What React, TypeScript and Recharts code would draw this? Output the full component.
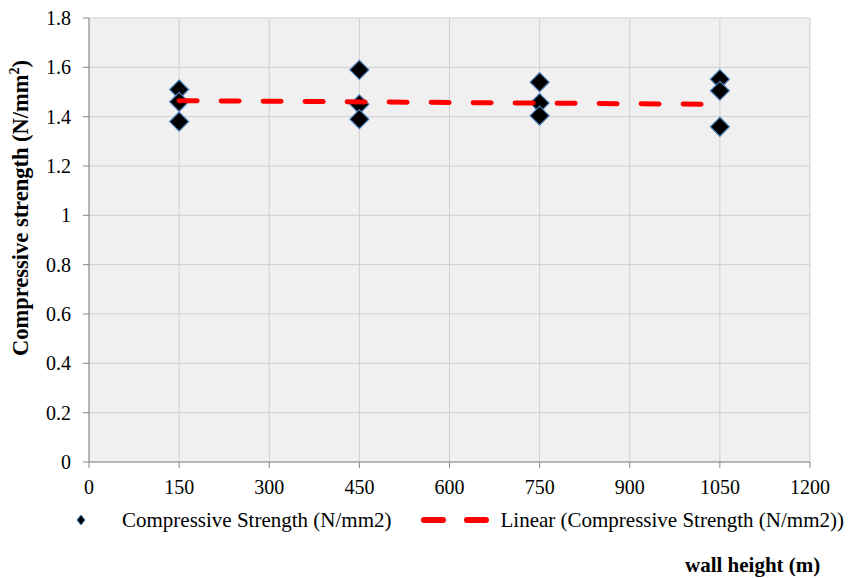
import { ScatterChart, Scatter, XAxis, YAxis, ZAxis, CartesianGrid } from 'recharts';

// wall height (m) and measured compressive strength (N/mm2)
const heights = [150, 150, 150, 450, 450, 450, 750, 750, 750, 1050, 1050, 1050];
const strengths = [1.51, 1.46, 1.38, 1.59, 1.45, 1.39, 1.54, 1.455, 1.404, 1.552, 1.505, 1.359];

// linear trend end points
const trendX = [150, 1050];
const trendY = [1.465, 1.45];

const xTicks = [0, 150, 300, 450, 600, 750, 900, 1050, 1200];
const yTicks = [0, 0.2, 0.4, 0.6, 0.8, 1, 1.2, 1.4, 1.6, 1.8];

const points = heights.map((h, i) => ({ x: h, y: strengths[i] }));
const trend = trendX.map((h, i) => ({ x: h, y: trendY[i] }));

const font = '"Liberation Serif", "Times New Roman", serif';

const Diamond = (props: any) => {
  const { cx, cy } = props;
  const r = 9.5;
  return (
    <path
      d={`M${cx},${cy - r}L${cx + r},${cy}L${cx},${cy + r}L${cx - r},${cy}Z`}
      fill="#000"
      stroke="#4a7ebb"
      strokeWidth={1.2}
    />
  );
};

export default function App() {
  return (
    <div style={{ position: 'fixed', left: 0, top: 0, width: 853, height: 578, background: '#fff', fontFamily: font }}>
      <ScatterChart width={853} height={578} margin={{ top: 18, right: 43, bottom: 86, left: 0 }} style={{ fontFamily: font }}>
        <CartesianGrid stroke="#cfcfcf" fill="#f0f0f0" />
        <XAxis
          type="number"
          dataKey="x"
          domain={[0, 1200]}
          ticks={xTicks}
          height={30}
          stroke="#888"
          tickSize={6}
          tickMargin={12}
          tick={{ fill: '#000', fontSize: 20, fontFamily: font }}
          interval={0}
        />
        <YAxis
          type="number"
          dataKey="y"
          domain={[0, 1.8]}
          ticks={yTicks}
          width={89}
          stroke="#888"
          tickSize={6}
          tickMargin={12}
          tick={{ fill: '#000', fontSize: 20, fontFamily: font }}
          interval={0}
        />
        <ZAxis range={[130, 130]} />
        <Scatter data={points} shape={Diamond} isAnimationActive={false} />
        <Scatter
          data={trend}
          shape={() => null}
          line={{ stroke: '#ff0000', strokeWidth: 5, strokeDasharray: '18 24', strokeLinecap: 'round' }}
          isAnimationActive={false}
        />
      </ScatterChart>

      {/* y axis title */}
      <div
        style={{
          position: 'absolute',
          left: 20,
          top: 208,
          transform: 'translate(-50%, -50%) rotate(-90deg)',
          whiteSpace: 'nowrap',
          fontWeight: 'bold',
          fontSize: 22.5,
          lineHeight: 1,
        }}
      >
        Compressive strength (N/mm<sup style={{ fontSize: 14 }}>2</sup>)
      </div>

      {/* legend */}
      <div style={{ position: 'absolute', left: 75, top: 507, height: 26, display: 'flex', alignItems: 'center', fontSize: 21, whiteSpace: 'nowrap' }}>
        <svg width={12} height={14}>
          <path d="M6,2L10,7L6,12L2,7Z" fill="#000" stroke="#4a7ebb" strokeWidth={1} />
        </svg>
        <span style={{ marginLeft: 35 }}>Compressive Strength (N/mm2)</span>
        <svg width={72} height={14} style={{ marginLeft: 29 }}>
          <line x1={4} y1={7} x2={67} y2={7} stroke="#ff0000" strokeWidth={6} strokeLinecap="round" strokeDasharray="19 24" />
        </svg>
        <span style={{ marginLeft: 8 }}>Linear (Compressive Strength (N/mm2))</span>
      </div>

      {/* x axis title */}
      <div style={{ position: 'absolute', left: 685, top: 553, fontWeight: 'bold', fontSize: 21, whiteSpace: 'nowrap' }}>
        wall height (m)
      </div>
    </div>
  );
}
